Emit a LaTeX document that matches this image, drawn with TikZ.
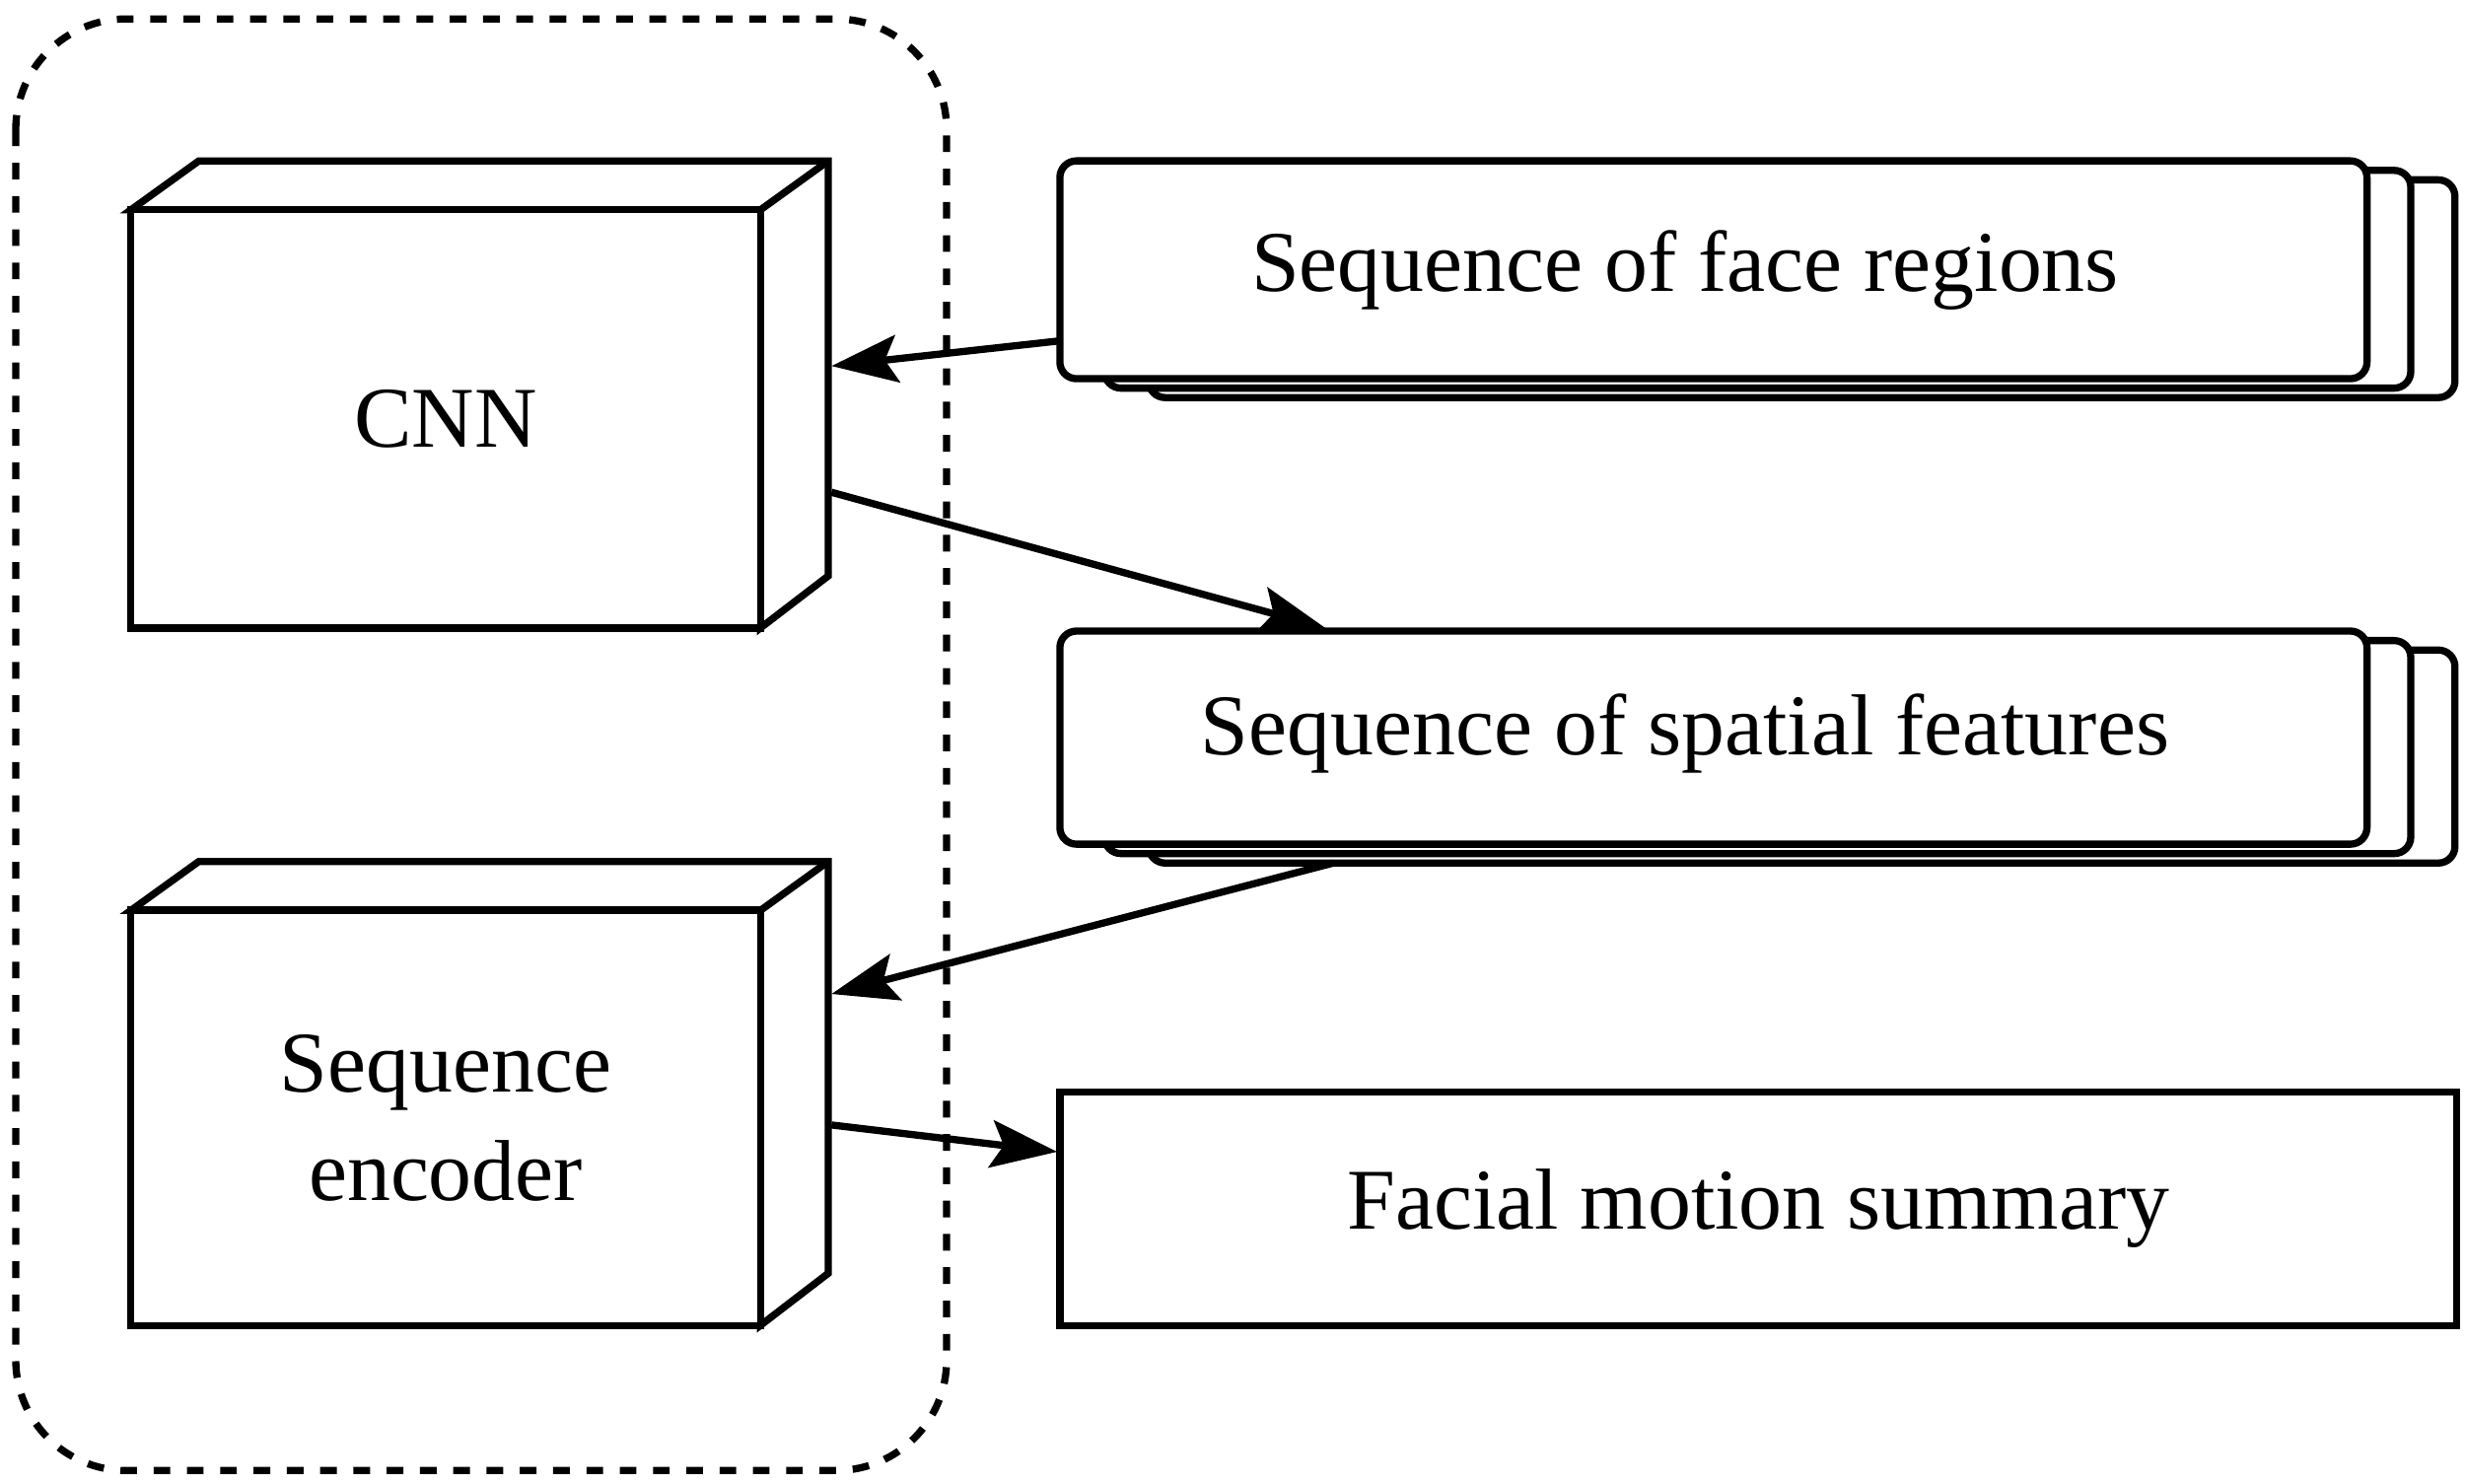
\documentclass[tikz,border=0pt]{standalone}
\usepackage{fontspec}
\setmainfont{Liberation Serif}
\usetikzlibrary{arrows.meta}
\begin{document}
\begin{tikzpicture}[x=0.01cm,y=-0.01cm,
  line/.style={line width=1.3pt, line join=miter},
  face/.style={line, draw, fill=white, inner sep=0pt, align=center, font=\fontsize{15.6}{19.5}\selectfont},
  txt/.style={inner sep=0pt, align=center, font=\fontsize{15.6}{19.5}\selectfont},
  stk/.style={line, draw, fill=white, rounded corners=3pt},
  arr/.style={line, -{Stealth[length=0.42cm,width=0.3cm,inset=0.08cm]}}]
\useasboundingbox (0,0) rectangle (1563,940);
\draw[line, dashed, rounded corners=0.7cm] (10,12) rectangle (600,932);
% 3D boxes
\foreach \t/\b in {133/398, 577/840}{
  \draw[line, fill=white] (83,\t) -- (126,\t-31) -- (525,\t-31) -- (525,\b-33) -- (482,\b) -- (482,\t) -- cycle;
  \draw[line] (482,\t) -- (525,\t-31);
}
\node[face, minimum width=3.99cm, minimum height=2.65cm] (cnn) at (282.5,265.5) {CNN};
\node[face, minimum width=3.99cm, minimum height=2.63cm] (enc) at (282.5,708.5) {Sequence\\encoder};
% stacks
\draw[stk] (728,114) rectangle (1556,252);
\draw[stk] (700,108) rectangle (1528,246);
\node[face, rounded corners=3pt, minimum width=8.28cm, minimum height=1.38cm] (face) at (1086,171) {};
\node[txt] (facet) at (1068,171) {Sequence of face regions};
\draw[stk] (728,412) rectangle (1556,547);
\draw[stk] (700,406) rectangle (1528,541);
\node[face, rounded corners=3pt, minimum width=8.28cm, minimum height=1.35cm] (spat) at (1086,467.5) {};
\node[txt] (spatt) at (1068,465) {Sequence of spatial features};
\node[face, minimum width=8.85cm, minimum height=1.48cm] (sum) at (1114.5,766) {Facial motion summary};
% connectors
\coordinate (a1) at (672,216); \coordinate (a2) at (527,232);
\coordinate (b1) at (527,312); \coordinate (b2) at (840,398);
\coordinate (c1) at (845,547); \coordinate (c2) at (527,630);
\coordinate (d1) at (527,713); \coordinate (d2) at (670,730);
\draw[arr] (a1) -- (a2);
\draw[arr] (b1) -- (b2);
\draw[arr] (c1) -- (c2);
\draw[arr] (d1) -- (d2);
\end{tikzpicture}
\end{document}
